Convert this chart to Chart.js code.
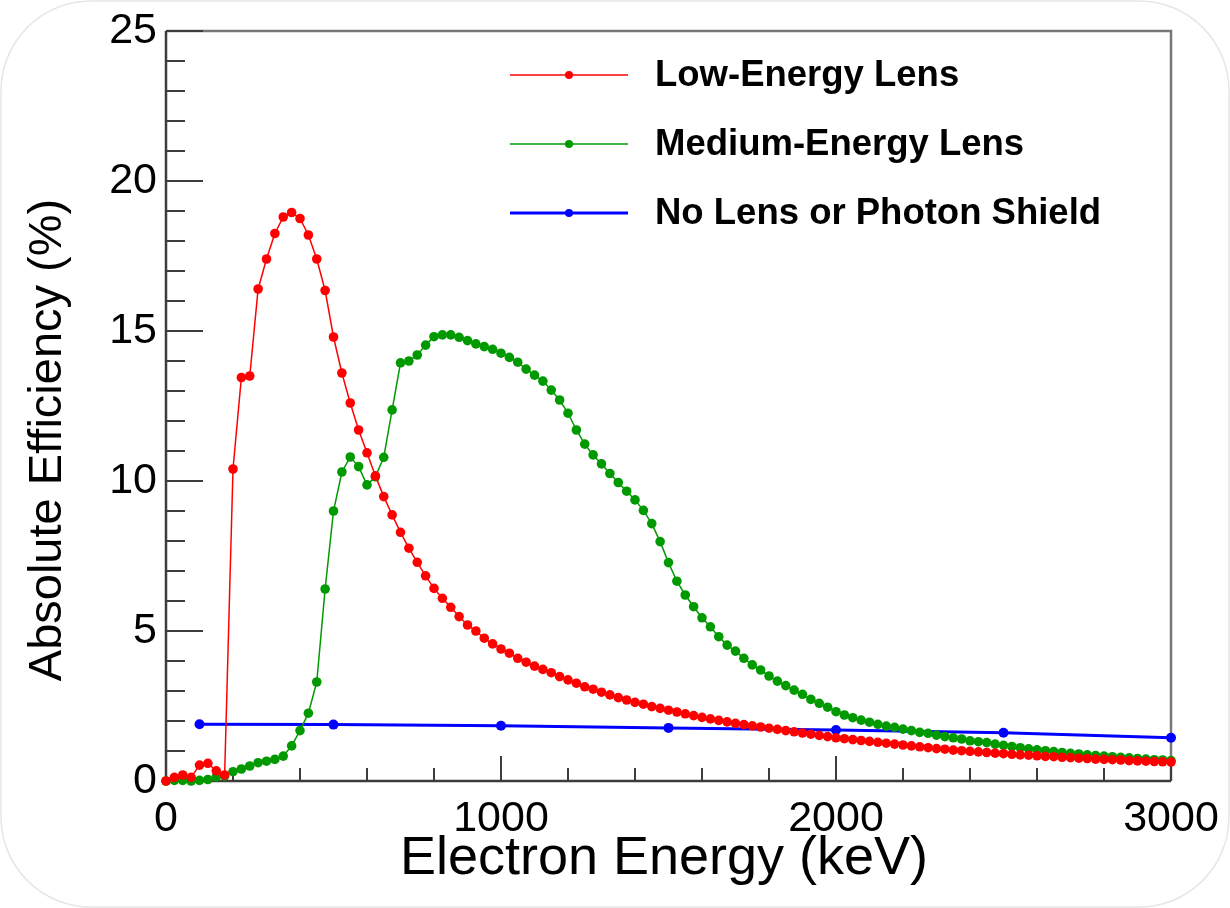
<!DOCTYPE html>
<html>
<head>
<meta charset="utf-8">
<script src="https://cdn.jsdelivr.net/npm/chart.js@4.4.0/dist/chart.umd.min.js"></script>
<style>
  html, body { margin: 0; padding: 0; background: #ffffff; }
  #wrap { position: relative; width: 1230px; height: 908px; }
  canvas { display: block; }
</style>
</head>
<body>
<div id="wrap"><canvas id="c" width="1230" height="908"></canvas></div>
<script>
// ---------------- data ----------------
const energies = [
  0, 25, 50, 75, 100, 125, 150, 175,
  200, 225, 250, 275, 300, 325, 350, 375,
  400, 425, 450, 475, 500, 525, 550, 575,
  600, 625, 650, 675, 700, 725, 750, 775,
  800, 825, 850, 875, 900, 925, 950, 975,
  1000, 1025, 1050, 1075, 1100, 1125, 1150, 1175,
  1200, 1225, 1250, 1275, 1300, 1325, 1350, 1375,
  1400, 1425, 1450, 1475, 1500, 1525, 1550, 1575,
  1600, 1625, 1650, 1675, 1700, 1725, 1750, 1775,
  1800, 1825, 1850, 1875, 1900, 1925, 1950, 1975,
  2000, 2025, 2050, 2075, 2100, 2125, 2150, 2175,
  2200, 2225, 2250, 2275, 2300, 2325, 2350, 2375,
  2400, 2425, 2450, 2475, 2500, 2525, 2550, 2575,
  2600, 2625, 2650, 2675, 2700, 2725, 2750, 2775,
  2800, 2825, 2850, 2875, 2900, 2925, 2950, 2975,
  3000
];

const lowEnergyLens = [
  0.0, 0.12, 0.2, 0.12, 0.53, 0.59, 0.34, 0.2,
  10.4, 13.45, 13.5, 16.4, 17.4, 18.25, 18.8, 18.95,
  18.75, 18.2, 17.4, 16.35, 14.8, 13.6, 12.6, 11.7,
  10.94, 10.17, 9.48, 8.87, 8.29, 7.76, 7.29, 6.84,
  6.42, 6.09, 5.79, 5.48, 5.2, 5.0, 4.76, 4.57,
  4.4, 4.26, 4.09, 3.96, 3.83, 3.72, 3.61, 3.48,
  3.37, 3.26, 3.14, 3.06, 2.96, 2.87, 2.78, 2.7,
  2.62, 2.56, 2.48, 2.42, 2.36, 2.3, 2.24, 2.18,
  2.12, 2.07, 2.02, 1.97, 1.92, 1.88, 1.84, 1.8,
  1.76, 1.72, 1.68, 1.64, 1.6, 1.56, 1.52, 1.48,
  1.44, 1.41, 1.38, 1.35, 1.32, 1.29, 1.26, 1.23,
  1.2, 1.17, 1.14, 1.11, 1.08, 1.06, 1.03, 1.01,
  0.99, 0.97, 0.95, 0.93, 0.91, 0.89, 0.87, 0.86,
  0.84, 0.82, 0.81, 0.79, 0.78, 0.76, 0.75, 0.73,
  0.72, 0.71, 0.7, 0.68, 0.67, 0.66, 0.65, 0.64,
  0.63
];

const mediumEnergyLens = [
  0.0, 0.02, 0.02, 0.0, 0.02, 0.05, 0.14, 0.17,
  0.31, 0.4, 0.5, 0.61, 0.66, 0.72, 0.83, 1.17,
  1.68, 2.26, 3.3, 6.4, 9.0, 10.3, 10.8, 10.48,
  9.87, 10.14, 10.79, 12.37, 13.94, 14.0, 14.2, 14.53,
  14.81, 14.87, 14.87, 14.79, 14.68, 14.57, 14.48, 14.39,
  14.26, 14.12, 13.96, 13.73, 13.53, 13.33, 13.03, 12.7,
  12.26, 11.7, 11.23, 10.87, 10.57, 10.25, 9.95, 9.66,
  9.37, 9.02, 8.58, 7.98, 7.28, 6.66, 6.2, 5.81,
  5.44, 5.14, 4.81, 4.53, 4.33, 4.09, 3.87, 3.7,
  3.5, 3.33, 3.18, 3.03, 2.89, 2.72, 2.59, 2.46,
  2.31, 2.2, 2.11, 2.03, 1.96, 1.89, 1.83, 1.79,
  1.73, 1.68, 1.62, 1.59, 1.53, 1.48, 1.44, 1.4,
  1.34, 1.31, 1.28, 1.23, 1.19, 1.15, 1.11, 1.07,
  1.04, 1.01, 0.98, 0.95, 0.92, 0.9, 0.87, 0.85,
  0.83, 0.81, 0.79, 0.77, 0.75, 0.73, 0.71, 0.7,
  0.68
];

const noLensEnergies = [100, 500, 1000, 1500, 2000, 2500, 3000];
const noLensValues   = [1.89, 1.88, 1.84, 1.77, 1.70, 1.61, 1.44];

const seriesLabels = ['Low-Energy Lens', 'Medium-Energy Lens', 'No Lens or Photon Shield'];
const xTitle = 'Electron Energy (keV)';
const yTitle = 'Absolute Efficiency (%)';
const xMajorStep = 1000, xMinorStep = 200;
const yMajorStep = 5, yMinorStep = 1;

// ---------------- styling ----------------
const FONT = '"Liberation Sans", Arial, Helvetica, sans-serif';
const RED = '#ff0000', GREEN = '#009a00', BLUE = '#0000ff';

function pts(xs, ys) { return xs.map((x, i) => ({ x: x, y: ys[i] })); }

const framePlugin = {
  id: 'frame',
  beforeDraw(chart) {
    const ctx = chart.ctx;
    ctx.save();
    ctx.strokeStyle = '#e6e6e6';
    ctx.lineWidth = 1.5;
    ctx.beginPath();
    if (ctx.roundRect) ctx.roundRect(1, 1, chart.width - 2, chart.height - 2, 90);
    ctx.stroke();
    ctx.restore();
  },
  beforeDatasetsDraw(chart) {
    const ctx = chart.ctx, a = chart.chartArea;
    const xs = chart.scales.x, ys = chart.scales.y;
    ctx.save();
    // top & right border
    ctx.strokeStyle = '#777777';
    ctx.lineWidth = 2.5;
    ctx.beginPath();
    ctx.moveTo(a.left, a.top); ctx.lineTo(a.right, a.top); ctx.lineTo(a.right, a.bottom);
    ctx.stroke();
    // axes
    ctx.strokeStyle = '#3c3c3c';
    ctx.beginPath();
    ctx.moveTo(a.left, a.top); ctx.lineTo(a.left, a.bottom); ctx.lineTo(a.right, a.bottom);
    ctx.stroke();
    // inner ticks
    ctx.lineWidth = 2;
    ctx.strokeStyle = '#3c3c3c';
    ctx.beginPath();
    for (let v = xs.min; v <= xs.max + 1e-6; v += xMinorStep) {
      const px = xs.getPixelForValue(v);
      const len = (Math.abs(v % xMajorStep) < 1e-6) ? 25 : 13;
      ctx.moveTo(px, a.bottom); ctx.lineTo(px, a.bottom - len);
    }
    for (let v = ys.min; v <= ys.max + 1e-6; v += yMinorStep) {
      const py = ys.getPixelForValue(v);
      const len = (Math.abs(v % yMajorStep) < 1e-6) ? 37 : 19;
      ctx.moveTo(a.left, py); ctx.lineTo(a.left + len, py);
    }
    ctx.stroke();
    ctx.restore();
  },
  afterDraw(chart) {
    const ctx = chart.ctx;
    ctx.save();
    ctx.fillStyle = '#000';
    // axis titles
    ctx.font = '54px ' + FONT;
    ctx.textAlign = 'center';
    ctx.textBaseline = 'alphabetic';
    ctx.fillText(xTitle, 664, 874);
    ctx.translate(61, 440);
    ctx.rotate(-Math.PI / 2);
    ctx.font = '47px ' + FONT;
    ctx.fillText(yTitle, 0, 0);
    ctx.restore();

    // legend
    ctx.save();
    const rows = [75, 144, 213];
    chart.data.datasets.forEach((ds, i) => {
      const y = rows[i];
      ctx.strokeStyle = ds.borderColor;
      ctx.lineWidth = ds.borderWidth;
      ctx.beginPath(); ctx.moveTo(510, y); ctx.lineTo(628, y); ctx.stroke();
      ctx.fillStyle = ds.borderColor;
      ctx.beginPath(); ctx.arc(569, y, 4, 0, Math.PI * 2); ctx.fill();
      ctx.fillStyle = '#000';
      ctx.font = 'bold 36.5px ' + FONT;
      ctx.textAlign = 'left';
      ctx.textBaseline = 'middle';
      ctx.fillText(ds.label, 655, y + 1);
    });
    ctx.restore();
  }
};

new Chart(document.getElementById('c'), {
  type: 'line',
  data: {
    datasets: [
      { label: seriesLabels[0], data: pts(energies, lowEnergyLens), borderColor: RED, backgroundColor: RED,
        borderWidth: 1.5, pointRadius: 4.8, pointBackgroundColor: RED, pointBorderWidth: 0, tension: 0 },
      { label: seriesLabels[1], data: pts(energies, mediumEnergyLens), borderColor: GREEN, backgroundColor: GREEN,
        borderWidth: 1.5, pointRadius: 4.8, pointBackgroundColor: GREEN, pointBorderWidth: 0, tension: 0 },
      { label: seriesLabels[2], data: pts(noLensEnergies, noLensValues), borderColor: BLUE, backgroundColor: BLUE,
        borderWidth: 3, pointRadius: 5, pointBackgroundColor: BLUE, pointBorderWidth: 0, tension: 0 }
    ]
  },
  options: {
    responsive: false,
    animation: false,
    devicePixelRatio: 1,
    clip: false,
    layout: { padding: { left: 0, top: 31, right: 59, bottom: 0 } },
    plugins: { legend: { display: false }, tooltip: { enabled: false } },
    scales: {
      x: {
        type: 'linear', min: 0, max: 3000,
        afterFit(s) { s.height = 127; s.paddingLeft = 0; s.paddingRight = 0; },
        grid: { display: false, drawTicks: false },
        border: { display: false },
        ticks: { stepSize: xMajorStep, color: '#000', padding: 12, maxRotation: 0,
                 font: { family: FONT, size: 43 }, callback: v => String(v) }
      },
      y: {
        type: 'linear', min: 0, max: 25,
        afterFit(s) { s.width = 166; s.paddingTop = 0; s.paddingBottom = 0; },
        grid: { display: false, drawTicks: false },
        border: { display: false },
        ticks: { stepSize: yMajorStep, color: '#000', padding: 9,
                 font: { family: FONT, size: 43 }, callback: v => String(v) }
      }
    }
  },
  plugins: [framePlugin]
});
</script>
</body>
</html>
